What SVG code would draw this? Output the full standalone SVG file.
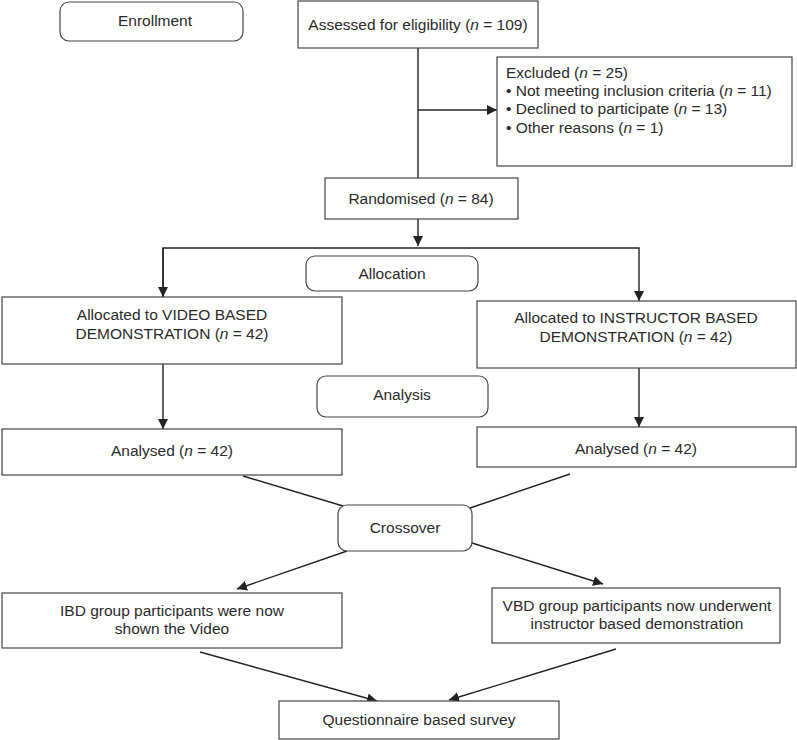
<svg xmlns="http://www.w3.org/2000/svg" width="797" height="740" viewBox="0 0 797 740">
<style>
.box{fill:#fff;stroke:#444;stroke-width:1.2}
.t{font-family:"Liberation Sans",Arial,sans-serif;font-size:15.5px;fill:#2a2a2a}
.m{text-anchor:middle}
.i{font-style:italic}
.c{fill:none;stroke:#222;stroke-width:1.4}
</style>
<defs>
<marker id="ah" viewBox="0 0 10 10" refX="10" refY="5" markerWidth="10" markerHeight="10" markerUnits="userSpaceOnUse" orient="auto">
<path d="M0,0 L10,5 L0,10 z" fill="#222"/>
</marker>
</defs>
<rect width="797" height="740" fill="#fff"/>
<g id="connectors">
<path class="c" d="M418,48 V178"/>
<path class="c" d="M418,110 H497" marker-end="url(#ah)"/>
<path class="c" d="M418,219 V246" marker-end="url(#ah)"/>
<path class="c" d="M163,297 V248 H639 V301" marker-end="url(#ah)"/>
<path class="c" d="M163,248 V297" marker-end="url(#ah)"/>
<path class="c" d="M163,364 V429" marker-end="url(#ah)"/>
<path class="c" d="M639,368 V427" marker-end="url(#ah)"/>
<path class="c" d="M243,476 L343,506"/>
<path class="c" d="M570,474 L470,508"/>
<path class="c" d="M347,551 L237,589" marker-end="url(#ah)"/>
<path class="c" d="M472,543 L603,584" marker-end="url(#ah)"/>
<path class="c" d="M200,652 L377,701" marker-end="url(#ah)"/>
<path class="c" d="M616,649 L449,700" marker-end="url(#ah)"/>
</g>
<g id="enrollment">
<rect class="box" x="60" y="2" width="183" height="39" rx="9"/>
<text class="t m" x="155" y="26">Enrollment</text>
</g>
<g id="assessed">
<rect class="box" x="298" y="1" width="240" height="47"/>
<text class="t m" x="418" y="30">Assessed for eligibility (<tspan class="i">n</tspan> = 109)</text>
</g>
<g id="excluded">
<rect class="box" x="497" y="57" width="295" height="109"/>
<text class="t" x="506" y="78">Excluded (<tspan class="i">n</tspan> = 25)</text>
<text class="t" x="506" y="96">• Not meeting inclusion criteria (<tspan class="i">n</tspan> = 11)</text>
<text class="t" x="506" y="114">• Declined to participate (<tspan class="i">n</tspan> = 13)</text>
<text class="t" x="506" y="133">• Other reasons (<tspan class="i">n</tspan> = 1)</text>
</g>
<g id="randomised">
<rect class="box" x="325" y="178" width="193" height="41"/>
<text class="t m" x="421" y="204">Randomised (<tspan class="i">n</tspan> = 84)</text>
</g>
<g id="allocation">
<rect class="box" x="306" y="256" width="172" height="35" rx="9"/>
<text class="t m" x="392" y="279">Allocation</text>
</g>
<g id="alloc-video">
<rect class="box" x="2" y="297" width="340" height="67"/>
<text class="t m" x="172" y="320">Allocated to VIDEO BASED</text>
<text class="t m" x="172" y="339">DEMONSTRATION (<tspan class="i">n</tspan> = 42)</text>
</g>
<g id="alloc-instructor">
<rect class="box" x="477" y="301" width="319" height="67"/>
<text class="t m" x="636" y="323">Allocated to INSTRUCTOR BASED</text>
<text class="t m" x="636" y="342">DEMONSTRATION (<tspan class="i">n</tspan> = 42)</text>
</g>
<g id="analysis">
<rect class="box" x="317" y="376" width="171" height="41" rx="9"/>
<text class="t m" x="402" y="400">Analysis</text>
</g>
<g id="analysed-left">
<rect class="box" x="2" y="429" width="340" height="46"/>
<text class="t m" x="172" y="456">Analysed (<tspan class="i">n</tspan> = 42)</text>
</g>
<g id="analysed-right">
<rect class="box" x="477" y="427" width="319" height="40"/>
<text class="t m" x="636" y="454">Analysed (<tspan class="i">n</tspan> = 42)</text>
</g>
<g id="crossover">
<rect class="box" x="338" y="505" width="134" height="46" rx="9"/>
<text class="t m" x="405" y="533">Crossover</text>
</g>
<g id="ibd">
<rect class="box" x="2" y="593" width="340" height="55"/>
<text class="t m" x="172" y="616">IBD group participants were now</text>
<text class="t m" x="172" y="634">shown the Video</text>
</g>
<g id="vbd">
<rect class="box" x="492" y="588" width="288" height="55"/>
<text class="t m" x="637" y="611">VBD group participants now underwent</text>
<text class="t m" x="637" y="629">instructor based demonstration</text>
</g>
<g id="questionnaire">
<rect class="box" x="279" y="701" width="280" height="38"/>
<text class="t m" x="419" y="725">Questionnaire based survey</text>
</g>
</svg>
